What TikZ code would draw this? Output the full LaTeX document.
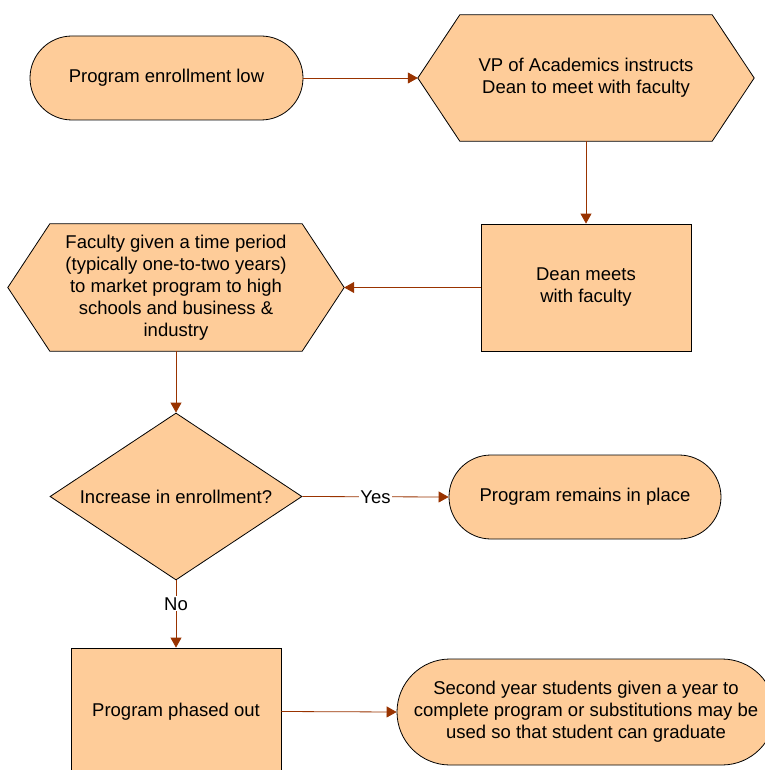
\documentclass[tikz,border=0pt]{standalone}
\usepackage{fontspec}
\setmainfont{Liberation Sans}
\usetikzlibrary{shapes.geometric,shapes.misc,arrows.meta,backgrounds}
\definecolor{peach}{RGB}{254,204,153}
\definecolor{flowline}{RGB}{153,51,0}
\tikzset{
  labelfont/.style={font=\fontsize{18.5}{22}\selectfont},
  base/.style={fill=peach, draw=black, line width=0.8pt, align=center, labelfont, inner sep=0pt},
  terminal/.style={base, rounded rectangle, minimum width=273pt, minimum height=84pt},
  process/.style={base, rectangle, minimum width=210pt, minimum height=127pt},
  decision/.style={base, diamond, aspect=1.5, minimum width=252pt, minimum height=167pt},
  hexframe/.style={rectangle, minimum width=336pt, minimum height=126pt, align=center, labelfont, inner sep=0pt},
  hexfill/.style={fill=peach, draw=black, line width=0.8pt, line join=miter},
  flow/.style={draw=flowline, line width=0.8pt, -{Triangle[length=10pt,width=11pt]}},
  branch/.style={fill=white, inner sep=1pt, labelfont}
}
\newcommand\hexoutline[1]{%
  \begin{scope}[on background layer]
    \draw[hexfill] (#1.west) -- ([xshift=42pt]#1.north west) -- ([xshift=-42pt]#1.north east)
      -- (#1.east) -- ([xshift=-42pt]#1.south east) -- ([xshift=42pt]#1.south west) -- cycle;
  \end{scope}}
\begin{document}
\begin{tikzpicture}[x=1pt, y=-1pt]
  \useasboundingbox (0,0) rectangle (764,770);

  % nodes
  \node[terminal] (start) at (166.5,78) {Program enrollment low};
  \node[hexframe] (vp) at (586,78) {VP of Academics instructs\\Dean to meet with faculty};
  \node[process] (dean) at (586,287.5) {Dean meets\\with faculty};
  \node[hexframe, minimum height=127pt] (market) at (176,287.5)
    {Faculty given a time period\\(typically one-to-two years)\\to market program to high\\schools and business \&\\industry};
  \node[decision] (dec) at (176,496.5) {Increase in enrollment?};
  \node[terminal, minimum width=272pt] (remain) at (585,497) {Program remains in place};
  \node[process] (phase) at (176,711.5) {Program phased out};
  \node[terminal, minimum width=378pt, minimum height=106pt] (second) at (586,712)
    {Second year students given a year to\\complete program or substitutions may be\\used so that student can graduate};

  \hexoutline{vp}
  \hexoutline{market}

  % connectors
  \draw[flow] (start.east) -- (vp.west);
  \draw[flow] (vp.south) -- (dean.north);
  \draw[flow] (dean.west) -- (market.east);
  \draw[flow] (market.south) -- (dec.north);
  \draw[flow] (dec.east) -- node[branch] {Yes} (remain.west);
  \draw[flow] (dec.south) -- node[branch, pos=0.35] {No} (phase.north);
  \draw[flow] (phase.east) -- (second.west);
\end{tikzpicture}
\end{document}
